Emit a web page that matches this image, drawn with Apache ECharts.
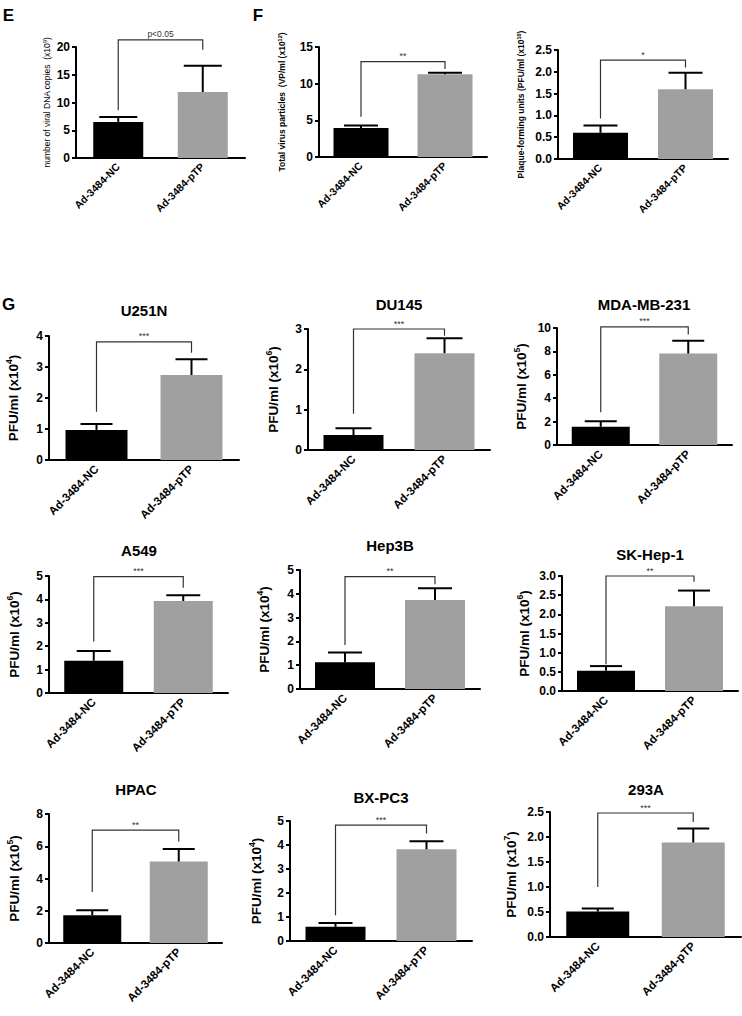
<!DOCTYPE html>
<html><head><meta charset="utf-8">
<script src="https://cdn.jsdelivr.net/npm/echarts@6.0.0/dist/echarts.min.js"></script>
<style>html,body{margin:0;padding:0;background:#fff}#c{width:742px;height:1016px}</style>
</head><body><div id="c"></div>
<script>
// ---------- data ----------
const categories = ['Ad-3484-NC', 'Ad-3484-pTP'];
const panelTitles = ['', '', '', 'U251N', 'DU145', 'MDA-MB-231', 'A549', 'Hep3B', 'SK-Hep-1', 'HPAC', 'BX-PC3', '293A'];
const yAxisNames = ['number of viral DNA copies  (x10', 'Total virus particles  (VP/ml (x10', 'Plaque-forming units (PFU/ml (x10',
  'PFU/ml (x10', 'PFU/ml (x10', 'PFU/ml (x10', 'PFU/ml (x10', 'PFU/ml (x10', 'PFU/ml (x10', 'PFU/ml (x10', 'PFU/ml (x10', 'PFU/ml (x10'];
const yExponents = ['9', '12', '10', '4', '6', '5', '6', '4', '6', '5', '4', '7'];
const ncMean   = [6.5, 3.95, 0.60, 0.97, 0.37, 1.56, 1.38, 1.12, 0.53, 1.72, 0.59, 0.51];
const ncUpper  = [7.4, 4.30, 0.77, 1.16, 0.54, 2.03, 1.80, 1.53, 0.65, 2.03, 0.75, 0.57];
const ptpMean  = [11.9, 11.3, 1.60, 2.74, 2.40, 7.82, 3.93, 3.74, 2.21, 5.05, 3.82, 1.89];
const ptpUpper = [16.6, 11.5, 1.98, 3.25, 2.77, 8.90, 4.18, 4.23, 2.62, 5.83, 4.16, 2.17];
const yMax  = [20, 15, 2.5, 4, 3, 10, 5, 5, 3, 8, 5, 2.5];
const yStep = [5, 5, 0.5, 1, 1, 2, 1, 1, 0.5, 2, 1, 0.5];
const yDecimals = [0, 0, 1, 0, 0, 0, 0, 0, 1, 0, 0, 1];
const sigLabels = ['p<0.05', '**', '*', '***', '***', '***', '***', '**', '**', '**', '***', '***'];
const bracketTop   = [21.3, 13.0, 2.27, 3.81, 3.0, 10.1, 4.97, 4.72, 3.0, 7.0, 4.83, 2.48];
const bracketLeft  = [8.6, 5.5, 0.93, 1.56, 0.9, 2.8, 2.2, 1.85, 0.7, 3.17, 1.07, 1.0];
const bracketRight = [19.5, 12.0, 2.1, 3.46, 2.83, 9.45, 4.5, 4.4, 2.85, 6.3, 4.48, 2.3];
const panelLetters = ['E', 'F', 'G'];

// ---------- layout / style ----------
const layout = [
  {l: 76,  t: 47,  w: 169, h: 111, bw: 50, cap: 19, gap: 23, small: true,  nameBold: false},
  {l: 319, t: 47,  w: 168, h: 110, bw: 55, cap: 17, gap: 31, small: true,  nameBold: true},
  {l: 558, t: 50,  w: 170, h: 109, bw: 55, cap: 17, gap: 31, small: true,  nameBold: true},
  {l: 49,  t: 336, w: 190, h: 124, bw: 62, cap: 16, gap: 27, tx: 144, ty: 310},
  {l: 308, t: 329, w: 182, h: 121, bw: 60, cap: 18, gap: 26, tx: 399, ty: 304},
  {l: 557, t: 328, w: 175, h: 117, bw: 58, cap: 16, gap: 27, tx: 644, ty: 304},
  {l: 49,  t: 576, w: 179, h: 117, bw: 59, cap: 17, gap: 26, tx: 139, ty: 550},
  {l: 300, t: 570, w: 180, h: 119, bw: 60, cap: 17, gap: 27, tx: 390, ty: 545},
  {l: 562, t: 576, w: 176, h: 115, bw: 58, cap: 16, gap: 29, tx: 650, ty: 554},
  {l: 49,  t: 814, w: 173, h: 129, bw: 58, cap: 16, gap: 26, tx: 136, ty: 789},
  {l: 290, t: 821, w: 182, h: 120, bw: 60, cap: 17, gap: 25, tx: 381, ty: 797},
  {l: 550, t: 812, w: 191, h: 125, bw: 63, cap: 16, gap: 30, tx: 646, ty: 789}
];
const letterPos = [[8.5, 15], [258, 15], [8.5, 304]];
const FONT = 'Liberation Sans, Arial, sans-serif';
const BAR_COLORS = ['#000000', '#a0a0a0'];

const grids = [], xAxes = [], yAxes = [], series = [], graphics = [];

layout.forEach((L, i) => {
  grids.push({left: L.l, top: L.t, width: L.w, height: L.h, containLabel: false});
  const nameSize = L.small ? 8.5 : 13.5;
  xAxes.push({
    type: 'category', gridIndex: i, data: categories,
    axisLine: {lineStyle: {color: '#000', width: 2}},
    axisTick: {alignWithLabel: true, length: 5, lineStyle: {color: '#000', width: 2}},
    axisLabel: {rotate: 45, interval: 0, margin: 7, color: '#000', fontWeight: 'bold',
      fontFamily: FONT, fontSize: L.small ? 10.5 : 11.5}
  });
  yAxes.push({
    type: 'value', gridIndex: i, min: 0, max: yMax[i], interval: yStep[i],
    name: '{b|' + yAxisNames[i] + '}{s|' + yExponents[i] + '}{b|)}',
    nameLocation: 'middle', nameGap: L.gap, nameRotate: 90,
    nameTextStyle: {
      rich: {
        b: {fontSize: nameSize, fontFamily: FONT, fontWeight: (L.small && !L.nameBold) ? 'normal' : 'bold',
            color: '#000', lineHeight: nameSize * 1.3},
        s: {fontSize: nameSize * 0.65, fontFamily: FONT, fontWeight: (L.small && !L.nameBold) ? 'normal' : 'bold',
            color: '#000', verticalAlign: 'top', lineHeight: nameSize * 1.3}
      }
    },
    splitLine: {show: false},
    axisLine: {show: true, lineStyle: {color: '#000', width: 2}},
    axisTick: {show: true, length: 4, lineStyle: {color: '#000', width: 2}},
    axisLabel: {margin: 6, color: '#000', fontWeight: 'bold', fontFamily: FONT, fontSize: 12,
      formatter: v => v.toFixed(yDecimals[i])}
  });
  series.push({
    type: 'bar', xAxisIndex: i, yAxisIndex: i, barWidth: L.bw,
    data: [
      {value: ncMean[i], itemStyle: {color: BAR_COLORS[0]}},
      {value: ptpMean[i], itemStyle: {color: BAR_COLORS[1]}}
    ],
    silent: true, animation: false
  });
  const cap = L.cap;
  series.push({
    type: 'custom', xAxisIndex: i, yAxisIndex: i, animation: false, silent: true, z: 5,
    data: [[0, ncMean[i], ncUpper[i]], [1, ptpMean[i], ptpUpper[i]]],
    encode: {x: 0, y: [1, 2]},
    renderItem: (params, api) => {
      const x = api.value(0);
      const pB = api.coord([x, api.value(1)]);
      const pT = api.coord([x, api.value(2)]);
      return {type: 'group', children: [
        {type: 'line', shape: {x1: pB[0], y1: pB[1], x2: pT[0], y2: pT[1]}, style: {stroke: '#000', lineWidth: 2}},
        {type: 'line', shape: {x1: pT[0] - cap, y1: pT[1], x2: pT[0] + cap, y2: pT[1]}, style: {stroke: '#000', lineWidth: 2}}
      ]};
    }
  });
  const sig = sigLabels[i];
  series.push({
    type: 'custom', xAxisIndex: i, yAxisIndex: i, animation: false, silent: true, z: 6, clip: false,
    data: [[0, 1, bracketTop[i], bracketLeft[i], bracketRight[i]]],
    encode: {x: [0, 1], y: [2, 3, 4]},
    renderItem: (params, api) => {
      const a = api.coord([0, api.value(3)]);
      const b = api.coord([0, api.value(2)]);
      const c = api.coord([1, api.value(2)]);
      const d = api.coord([1, api.value(4)]);
      return {type: 'group', children: [
        {type: 'polyline', shape: {points: [a, b, c, d]}, style: {stroke: '#333', lineWidth: 1.2, fill: null}},
        {type: 'text', x: (b[0] + c[0]) / 2, y: b[1] - 1,
          style: {text: sig, align: 'center', verticalAlign: 'bottom', fontSize: sig.length > 3 ? 8.5 : 9,
            fontFamily: FONT, fill: '#333'}}
      ]};
    }
  });
  if (panelTitles[i]) {
    graphics.push({type: 'text', x: L.tx, y: L.ty,
      style: {text: panelTitles[i], align: 'center', verticalAlign: 'middle', fontSize: 15, fontWeight: 'bold',
        fontFamily: FONT, fill: '#000'}});
  }
});
panelLetters.forEach((t, k) => {
  graphics.push({type: 'text', x: letterPos[k][0], y: letterPos[k][1],
    style: {text: t, align: 'center', verticalAlign: 'middle', fontSize: 17, fontWeight: 'bold',
      fontFamily: FONT, fill: '#000'}});
});

const chart = echarts.init(document.getElementById('c'), null, {renderer: 'svg'});
chart.setOption({
  animation: false,
  backgroundColor: '#fff',
  grid: grids, xAxis: xAxes, yAxis: yAxes, series: series, graphic: graphics
});
</script></body></html>
